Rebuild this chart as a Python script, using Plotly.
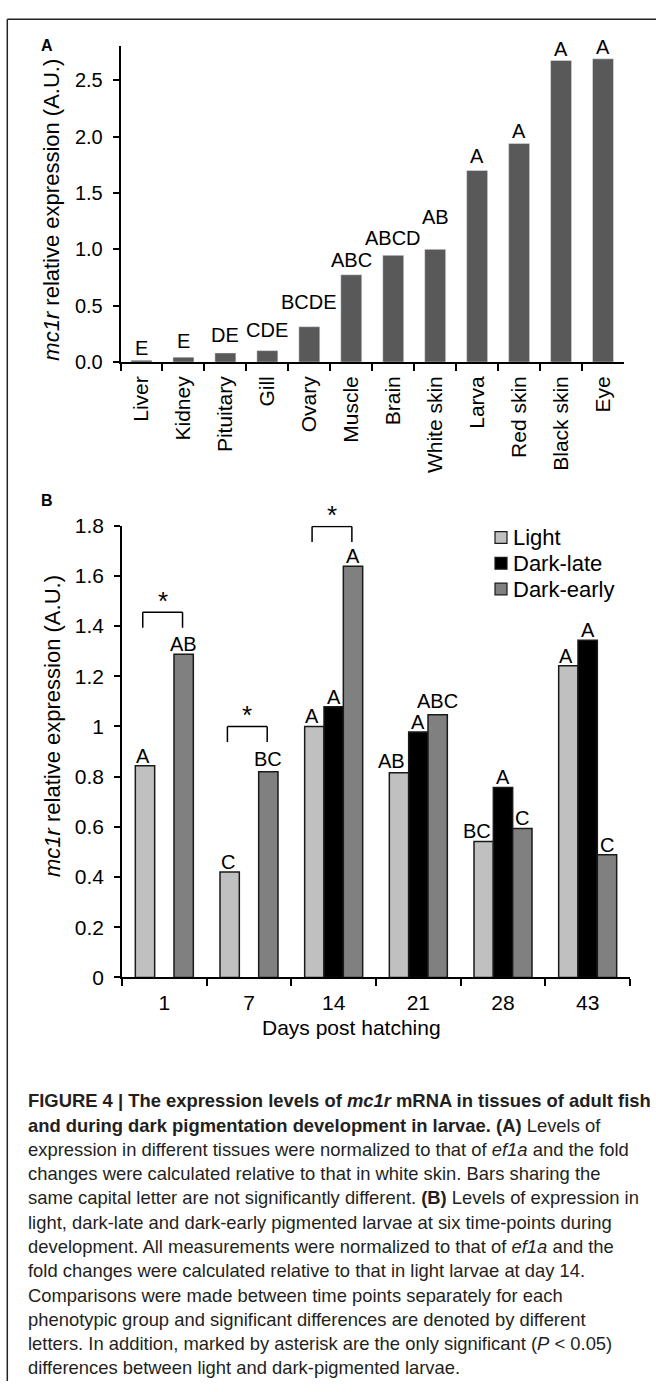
import plotly.graph_objects as go

W, H = 656, 1392

# ---------------- data : panel A ----------------
tissues = ["Liver", "Kidney", "Pituitary", "Gill", "Ovary", "Muscle", "Brain",
           "White skin", "Larva", "Red skin", "Black skin", "Eye"]
tissue_expr = [0.017, 0.044, 0.081, 0.102, 0.314, 0.775, 0.947, 1.0, 1.70, 1.94, 2.675, 2.69]
tissue_letters = ["E", "E", "DE", "CDE", "BCDE", "ABC", "ABCD", "AB", "A", "A", "A", "A"]
# height (A.U.) of the baseline of each letter group (letters sit above hidden error bars)
tissue_letter_y = [0.052, 0.114, 0.169, 0.212, 0.463, 0.839, 1.029, 1.218, 1.757, 1.976, 2.704, 2.727]

# ---------------- data : panel B ----------------
days = ["1", "7", "14", "21", "28", "43"]
light = [0.844, 0.42, 1.0, 0.816, 0.542, 1.242]
dark_late = [None, None, 1.079, 0.978, 0.757, 1.344]
dark_early = [1.288, 0.82, 1.638, 1.047, 0.594, 0.489]
light_letters = ["A", "C", "A", "AB", "BC", "A"]
dark_late_letters = ["", "", "A", "A", "A", "A"]
dark_early_letters = ["AB", "BC", "A", "ABC", "C", "C"]
sig_days = ["1", "7", "14"]
sig_bracket_top = [1.455, 1.0, 1.797]

caption_lines = [
    "<b>FIGURE 4 | The expression levels of <i>mc1r</i> mRNA in tissues of adult fish</b>",
    "<b>and during dark pigmentation development in larvae. (A)</b> Levels of",
    "expression in different tissues were normalized to that of <i>ef1a</i> and the fold",
    "changes were calculated relative to that in white skin. Bars sharing the",
    "same capital letter are not significantly different. <b>(B)</b> Levels of expression in",
    "light, dark-late and dark-early pigmented larvae at six time-points during",
    "development. All measurements were normalized to that of <i>ef1a</i> and the",
    "fold changes were calculated relative to that in light larvae at day 14.",
    "Comparisons were made between time points separately for each",
    "phenotypic group and significant differences are denoted by different",
    "letters. In addition, marked by asterisk are the only significant (<i>P</i> &lt; 0.05)",
    "differences between light and dark-pigmented larvae.",
]

# ---------------- styling ----------------
FONT = "Liberation Sans, Arial, Helvetica, sans-serif"
BARGAP_B = 0.315
COL_A = "#595959"
COL_LIGHT, COL_DL, COL_DE = "#c0c0c0", "#000000", "#808080"


def px(x):
    return x / W


def py(y):
    return 1 - y / H


fig = go.Figure()

fig.add_trace(go.Bar(x=tissues, y=tissue_expr, marker_color=COL_A, xaxis="x", yaxis="y",
                     width=0.5, showlegend=False, name="Tissues"))

for name, vals, col in [("Light", light, COL_LIGHT), ("Dark-late", dark_late, COL_DL),
                        ("Dark-early", dark_early, COL_DE)]:
    fig.add_trace(go.Bar(x=days, y=vals, name=name, marker_color=col,
                         marker_line=dict(color="#1a1a1a", width=1.5),
                         xaxis="x2", yaxis="y2", showlegend=False))

axis_common = dict(showline=True, linecolor="black", linewidth=1.5, ticks="outside",
                   tickcolor="black", tickwidth=1.5, showgrid=False, zeroline=False,
                   fixedrange=True)

fig.update_layout(
    width=W, height=H, margin=dict(l=0, r=0, t=0, b=0),
    paper_bgcolor="white", plot_bgcolor="white",
    font=dict(family=FONT, color="black"),
    barmode="group", bargap=BARGAP_B, bargroupgap=0,
    xaxis=dict(domain=[px(120.5), px(624)], anchor="y", type="category",
               tickson="boundaries", ticklen=7, tickangle=-90, ticklabelstandoff=4,
               tickfont=dict(size=21), **axis_common),
    yaxis=dict(domain=[py(356), py(35)], anchor="x", range=[0, 2.8], tick0=0, dtick=0.5,
               tickformat=".1f", ticklen=6, ticklabelstandoff=6,
               tickfont=dict(size=20), **axis_common),
    xaxis2=dict(domain=[px(122), px(630)], anchor="y2", type="category",
                tickson="boundaries", ticklen=7, ticklabelstandoff=6,
                tickfont=dict(size=21), **axis_common),
    yaxis2=dict(domain=[py(981.7), py(522.3)], anchor="x2", range=[0, 1.8], tick0=0,
                dtick=0.2, ticklen=6, ticklabelstandoff=6,
                tickfont=dict(size=21), **axis_common),
)

ann = []
shapes = []

# letters over tissue bars
for t, lab, ly in zip(tissues, tissue_letters, tissue_letter_y):
    ann.append(dict(x=t, y=ly, xref="x", yref="y", text=lab, showarrow=False,
                    xanchor="center", yanchor="bottom", yshift=-5, font=dict(size=20)))

# letters over larval bars
bw = (1 - BARGAP_B) / 3
xshift_override = {(0, "21"): -8, (0, "28"): -7}
yshift_override = {(2, "21"): 1, (2, "7"): 0, (0, "21"): -1}
for si, (vals, lets) in enumerate([(light, light_letters), (dark_late, dark_late_letters),
                                   (dark_early, dark_early_letters)]):
    for di, (v, lab) in enumerate(zip(vals, lets)):
        if v is None or not lab:
            continue
        xs = xshift_override.get((si, days[di]), -2 if si == 0 else 0)
        ys = yshift_override.get((si, days[di]), -3)
        ann.append(dict(x=di + (si - 1) * bw, y=v, xref="x2", yref="y2", text=lab,
                        showarrow=False, xanchor="center", yanchor="bottom",
                        yshift=ys, xshift=xs, font=dict(size=20)))

# significance brackets
for d, top in zip(sig_days, sig_bracket_top):
    i = days.index(d)
    x0, x1 = i - 0.255, i + 0.215
    leg = 0.062
    line = dict(color="black", width=1.5)
    shapes.append(dict(type="line", xref="x2", yref="y2", x0=x0, x1=x1, y0=top, y1=top, line=line))
    shapes.append(dict(type="line", xref="x2", yref="y2", x0=x0, x1=x0, y0=top, y1=top - leg, line=line))
    shapes.append(dict(type="line", xref="x2", yref="y2", x0=x1, x1=x1, y0=top, y1=top - leg, line=line))
    ann.append(dict(x=(x0 + x1) / 2, y=top, xref="x2", yref="y2", text="*", showarrow=False,
                    xanchor="center", yanchor="bottom", yshift=-6, font=dict(size=26)))

# axis titles
ytitle = "<i>mc1r</i> relative expression (A.U.)"
ann.append(dict(x=px(52), y=py(201), xref="paper", yref="paper", text=ytitle, textangle=-90,
                showarrow=False, xanchor="center", yanchor="middle", font=dict(size=22)))
ann.append(dict(x=px(52), y=py(726), xref="paper", yref="paper", text=ytitle, textangle=-90,
                showarrow=False, xanchor="center", yanchor="middle", font=dict(size=22)))
ann.append(dict(x=px(351.5), y=py(1032.5), xref="paper", yref="paper", text="Days post hatching",
                showarrow=False, xanchor="center", yanchor="middle", font=dict(size=21)))

# panel letters
ann.append(dict(x=px(47), y=py(34), xref="paper", yref="paper", text="<b>A</b>",
                showarrow=False, xanchor="center", yanchor="middle", font=dict(size=16)))
ann.append(dict(x=px(47), y=py(497), xref="paper", yref="paper", text="<b>B</b>",
                showarrow=False, xanchor="center", yanchor="middle", font=dict(size=16)))

# legend (drawn)
for k, (name, col) in enumerate([("Light", COL_LIGHT), ("Dark-late", COL_DL), ("Dark-early", COL_DE)]):
    cy = 534.3 + k * 26.2
    shapes.append(dict(type="rect", xref="paper", yref="paper", x0=px(495), x1=px(507),
                       y0=py(cy - 6), y1=py(cy + 6), fillcolor=col,
                       line=dict(color="#1a1a1a", width=1.2)))
    ann.append(dict(x=px(510.5), y=py(cy), xref="paper", yref="paper", text=name, showarrow=False,
                    xanchor="left", yanchor="middle", font=dict(size=22)))

# caption
for k, line_txt in enumerate(caption_lines):
    ann.append(dict(x=px(26), y=py(1107 + k * 24.7), xref="paper", yref="paper", text=line_txt,
                    showarrow=False, xanchor="left", yanchor="middle", align="left",
                    font=dict(size=18.4, color="#231f20")))

# frame lines (top and left)
shapes.append(dict(type="line", xref="paper", yref="paper", x0=px(7.3), x1=1, y0=py(7.3), y1=py(7.3),
                   line=dict(color="#222", width=1.5)))
shapes.append(dict(type="line", xref="paper", yref="paper", x0=px(7.3), x1=px(7.3), y0=0, y1=py(7.3),
                   line=dict(color="#222", width=1.5)))

fig.update_layout(annotations=ann, shapes=shapes)

fig.write_html("out.html", config={"displayModeBar": False},
               post_script="document.body.style.margin='0px';document.body.style.overflow='hidden';")
